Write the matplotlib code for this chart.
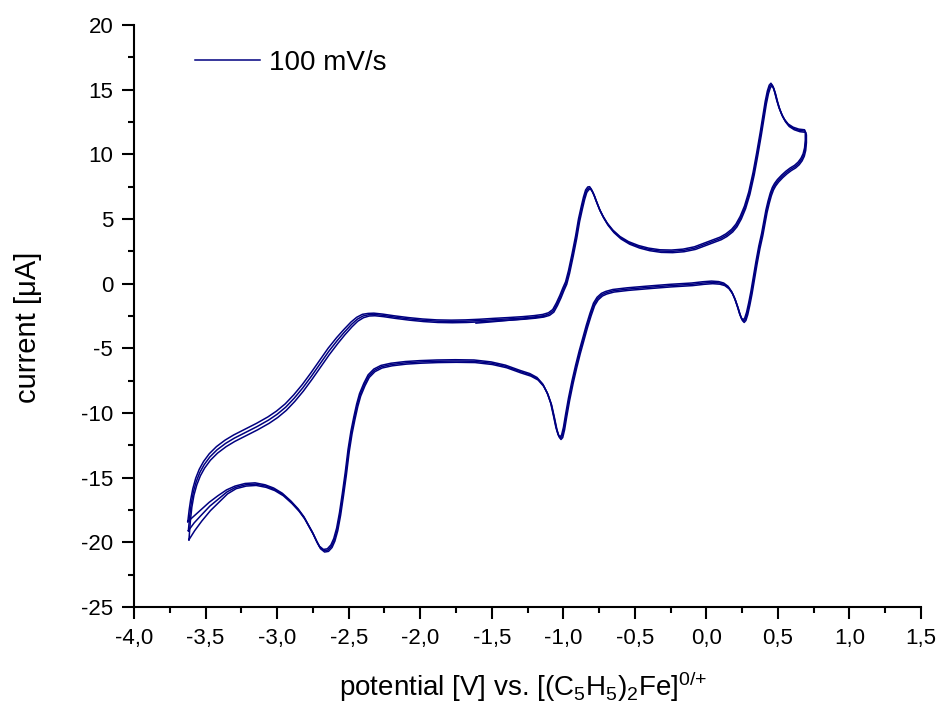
import numpy as np
import matplotlib.pyplot as plt
from matplotlib.ticker import MultipleLocator, FuncFormatter

plt.rcParams['font.family'] = ['Liberation Sans', 'DejaVu Sans']
plt.rcParams['mathtext.fontset'] = 'custom'
plt.rcParams['mathtext.rm'] = 'Liberation Sans'
plt.rcParams['mathtext.it'] = 'Liberation Sans:italic'

LINE_COLOR = '#000080'

# forward scan, left part (the three cycles drift apart here)
upper_left_x = [-3.62, -3.61, -3.60, -3.585, -3.565, -3.54, -3.51, -3.47, -3.42, -3.36,
                -3.30, -3.22, -3.14, -3.06, -3.00, -2.94, -2.88, -2.82, -2.76, -2.70,
                -2.64, -2.58, -2.53, -2.48, -2.44, -2.40]
upper_left_y = [
    [-18.5, -17.55, -16.8, -15.95, -15.15, -14.45, -13.85, -13.25, -12.7, -12.2,
     -11.8, -11.35, -10.9, -10.4, -9.95, -9.4, -8.7, -7.9, -7.0, -6.05,
     -5.1, -4.27, -3.65, -3.07, -2.7, -2.47],
    [-19.1, -17.9, -17.0, -16.1, -15.3, -14.6, -14.0, -13.4, -12.85, -12.35,
     -11.95, -11.5, -11.05, -10.55, -10.1, -9.55, -8.85, -8.05, -7.15, -6.2,
     -5.25, -4.4, -3.75, -3.15, -2.75, -2.5],
    [-19.7, -18.25, -17.2, -16.25, -15.45, -14.75, -14.15, -13.55, -13.0, -12.5,
     -12.1, -11.65, -11.2, -10.7, -10.25, -9.7, -9.0, -8.2, -7.3, -6.35,
     -5.4, -4.53, -3.85, -3.23, -2.8, -2.53],
]

# forward scan, rest
upper_x = [-2.36, -2.32, -2.26, -2.18, -2.08, -1.98, -1.88, -1.78, -1.68, -1.58,
           -1.48, -1.38, -1.28, -1.20, -1.14, -1.10, -1.07, -1.045, -1.02, -1.00,
           -0.98, -0.96, -0.935, -0.91, -0.89, -0.87, -0.855, -0.84, -0.825, -0.812,
           -0.80, -0.785, -0.77, -0.745, -0.72, -0.69, -0.65, -0.60, -0.54, -0.47,
           -0.40, -0.32, -0.24, -0.16, -0.08, -0.02, 0.04, 0.10, 0.14, 0.18,
           0.21, 0.24, 0.27, 0.30, 0.33, 0.355, 0.38, 0.40, 0.415, 0.43,
           0.443, 0.455, 0.467, 0.48, 0.495, 0.51, 0.53, 0.55, 0.575, 0.61,
           0.65, 0.69]
upper_y = [-2.4, -2.38, -2.45, -2.58, -2.72, -2.83, -2.9, -2.92, -2.9, -2.85,
           -2.78, -2.72, -2.65, -2.57, -2.48, -2.35, -2.1, -1.6, -1.0, -0.45,
           0.05, 0.9, 2.2, 3.6, 4.9, 5.9, 6.6, 7.15, 7.38, 7.4,
           7.2, 6.85, 6.4, 5.7, 5.15, 4.6, 4.05, 3.55, 3.15, 2.85,
           2.65, 2.52, 2.5, 2.57, 2.75, 3.0, 3.25, 3.5, 3.75, 4.1,
           4.5, 5.1, 5.9, 7.0, 8.5, 10.0, 11.6, 13.0, 14.0, 14.8,
           15.25, 15.4, 15.2, 14.75, 14.1, 13.55, 13.0, 12.6, 12.25, 12.0,
           11.85, 11.8]

# reverse scan
lower_x = [0.695, 0.695, 0.69, 0.68, 0.665, 0.645, 0.62, 0.59, 0.56, 0.53,
           0.50, 0.48, 0.465, 0.45, 0.435, 0.42, 0.405, 0.39, 0.37, 0.35,
           0.33, 0.315, 0.30, 0.285, 0.272, 0.26, 0.248, 0.235, 0.22, 0.20,
           0.18, 0.155, 0.125, 0.09, 0.04, -0.02, -0.10, -0.25, -0.40, -0.55,
           -0.65, -0.70, -0.73, -0.76, -0.785, -0.81, -0.835, -0.86, -0.885, -0.91,
           -0.935, -0.96, -0.98, -0.995, -1.008, -1.02, -1.033, -1.048, -1.065, -1.085,
           -1.11, -1.14, -1.18, -1.23, -1.30, -1.40, -1.50, -1.62, -1.75, -1.88,
           -2.00, -2.10, -2.20, -2.27, -2.32, -2.36, -2.39, -2.42, -2.44, -2.46,
           -2.48, -2.50, -2.52, -2.54, -2.56, -2.58, -2.60, -2.62, -2.645, -2.672,
           -2.70, -2.72, -2.75, -2.78, -2.81, -2.85, -2.90, -2.96, -3.02, -3.08,
           -3.15, -3.22]
lower_y = [11.6, 11.0, 10.4, 9.95, 9.6, 9.3, 9.05, 8.85, 8.6, 8.3,
           7.95, 7.65, 7.35, 6.9, 6.3, 5.6, 4.7, 3.8, 2.8, 1.6,
           0.3, -0.7, -1.55, -2.3, -2.75, -2.9, -2.75, -2.4, -1.85, -1.2,
           -0.7, -0.3, -0.05, 0.06, 0.1, 0.05, -0.05, -0.15, -0.28, -0.42,
           -0.55, -0.7, -0.85, -1.15, -1.6, -2.4, -3.3, -4.3, -5.3, -6.4,
           -7.6, -8.95, -10.2, -11.2, -11.8, -11.95, -11.75, -11.2, -10.3, -9.3,
           -8.5, -7.85, -7.35, -7.05, -6.8, -6.4, -6.15, -6.0, -5.98, -6.0,
           -6.05, -6.12, -6.25, -6.42, -6.7, -7.15, -7.8, -8.6, -9.4, -10.4,
           -11.5, -12.9, -14.7, -16.3, -17.8, -19.0, -19.8, -20.3, -20.6, -20.65,
           -20.4, -20.0, -19.3, -18.7, -18.1, -17.5, -16.9, -16.3, -15.9, -15.65,
           -15.5, -15.55]

# reverse scan, left end (drift between cycles)
lower_tail_x = [-3.29, -3.35, -3.41, -3.47, -3.53, -3.58, -3.62]
lower_tail_y = [
    [-15.75, -16.05, -16.5, -17.0, -17.6, -18.1, -18.5],
    [-15.75, -16.1, -16.65, -17.2, -17.9, -18.5, -19.1],
    [-15.75, -16.15, -16.8, -17.45, -18.25, -19.0, -19.7],
]

# small offset of each cycle (potential, current)
cycle_dx = [-0.004, 0.0, 0.004]
cycle_dy = [0.1, 0.0, -0.1]

# start of the first scan
start_x = [-1.61, -1.50, -1.40, -1.30, -1.20, -1.12]
start_y = [-3.05, -2.95, -2.85, -2.75, -2.62, -2.5]

fig = plt.figure(figsize=(9.42, 7.12), dpi=100)
ax = fig.add_axes([0.14225, 0.14747, 0.8355, 0.8174])

for i in range(3):
    x = np.array(upper_left_x + upper_x + lower_x + lower_tail_x) + cycle_dx[i]
    y = np.array(upper_left_y[i] + upper_y + lower_y + lower_tail_y[i]) + cycle_dy[i]
    ax.plot(x, y, color=LINE_COLOR, lw=1.1, solid_joinstyle='round',
            label='100 mV/s' if i == 0 else None)
ax.plot(start_x, start_y, color=LINE_COLOR, lw=1.1)

ax.set_xlim(-4.0, 1.5)
ax.set_ylim(-25, 20)
ax.xaxis.set_major_locator(MultipleLocator(0.5))
ax.xaxis.set_minor_locator(MultipleLocator(0.25))
ax.yaxis.set_major_locator(MultipleLocator(5))
ax.yaxis.set_minor_locator(MultipleLocator(2.5))
ax.xaxis.set_major_formatter(FuncFormatter(lambda v, p: f'{v:.1f}'.replace('.', ',').replace('-0,0', '0,0')))
ax.yaxis.set_major_formatter(FuncFormatter(lambda v, p: f'{v:.0f}'))

for s in ['top', 'right']:
    ax.spines[s].set_visible(False)
for s in ['left', 'bottom']:
    ax.spines[s].set_linewidth(1.5)

ax.tick_params(which='major', direction='out', length=8.5, width=1.5, labelsize=16)
ax.tick_params(which='minor', direction='out', length=4.5, width=1.5)
ax.tick_params(axis='y', which='major', pad=6.5)
ax.tick_params(axis='x', which='major', pad=6.5)

ax.set_xlabel(r'potential [V] vs. [(C$_5$H$_5$)$_2$Fe]$^{0/{+}}$', fontsize=20)
ax.set_ylabel('current [μA]', fontsize=21)
ax.xaxis.set_label_coords(0.4945, -0.108)
ax.yaxis.set_label_coords(-0.117, 0.48)

ax.legend(loc='center left', bbox_to_anchor=(0.0775, 0.935), frameon=False,
          fontsize=20, handlelength=2.34, handletextpad=0.32, borderpad=0,
          borderaxespad=0)

fig.savefig('out.png', dpi=100)
